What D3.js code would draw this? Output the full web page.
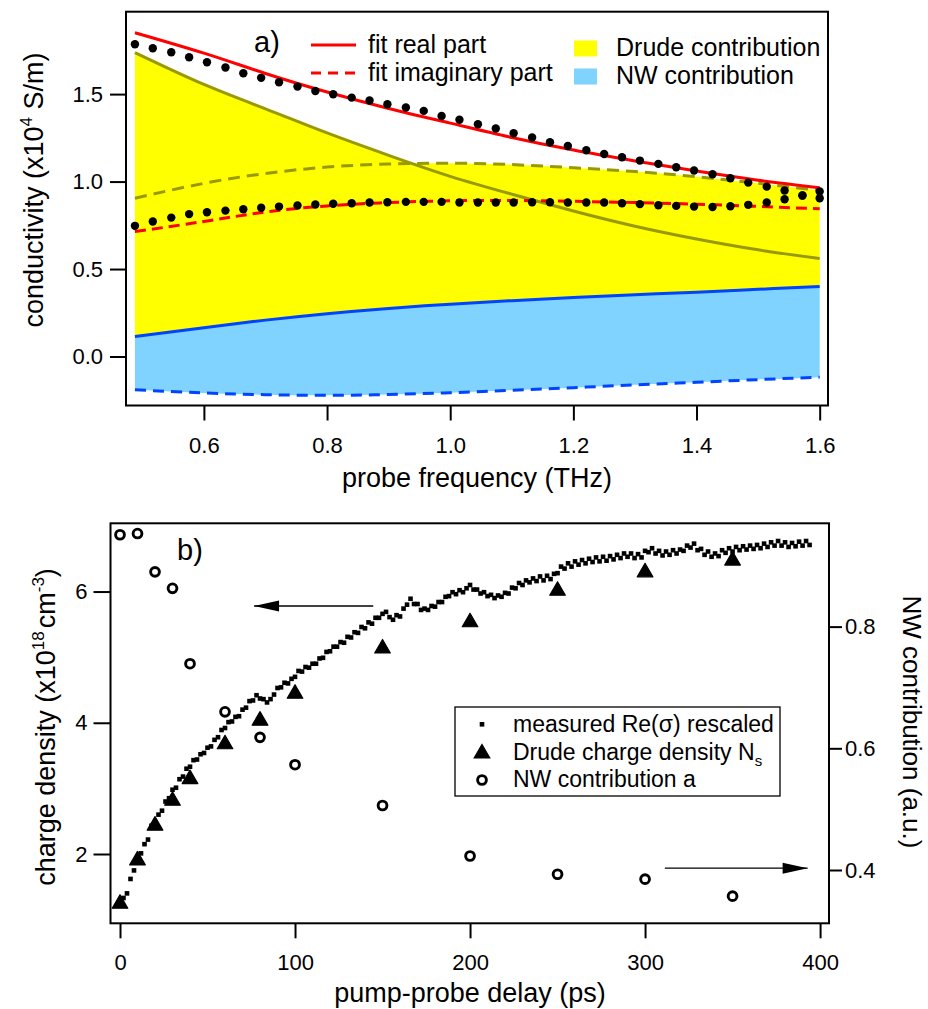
<!DOCTYPE html>
<html>
<head>
<meta charset="utf-8">
<script src="https://cdn.jsdelivr.net/npm/d3@7"></script>
<style>
  body { margin: 0; background: #fff; }
  svg { display: block; font-family: "Liberation Sans", Arial, sans-serif; }
  .axis line { stroke: #000; stroke-width: 2; }
  .axis text { font-size: 22px; fill: #000; font-family: "Liberation Sans", Arial, sans-serif; }
  .title { font-size: 27px; fill: #000; }
</style>
</head>
<body>
<svg width="928" height="1009"></svg>
<script>
// ---- panel a) : conductivity spectra ----
const freqs = [0.488, 0.517, 0.547, 0.576, 0.605, 0.635, 0.664, 0.693, 0.722, 0.752,
               0.781, 0.810, 0.840, 0.869, 0.898, 0.928, 0.957, 0.986, 1.015, 1.045,
               1.074, 1.103, 1.133, 1.162, 1.191, 1.221, 1.250, 1.279, 1.308, 1.338,
               1.367, 1.396, 1.426, 1.455, 1.484, 1.514, 1.543, 1.572, 1.600]
const sigmaReal = [1.785, 1.762, 1.739, 1.711, 1.682, 1.652, 1.619, 1.593, 1.568, 1.543,
                   1.518, 1.499, 1.480, 1.463, 1.442, 1.423, 1.404, 1.375, 1.353, 1.328,
                   1.303, 1.276, 1.252, 1.225, 1.203, 1.179, 1.158, 1.139, 1.120, 1.101,
                   1.082, 1.063, 1.042, 1.019, 0.994, 0.971, 0.949, 0.920, 0.943]
const sigmaImag = [0.747, 0.772, 0.794, 0.814, 0.825, 0.834, 0.842, 0.850, 0.857, 0.863,
                   0.869, 0.873, 0.876, 0.880, 0.882, 0.884, 0.884, 0.884, 0.880, 0.880,
                   0.880, 0.880, 0.882, 0.882, 0.880, 0.880, 0.880, 0.876, 0.871, 0.865,
                   0.861, 0.857, 0.855, 0.859, 0.867, 0.880, 0.899, 0.920, 0.905]

const fitFreqs   = [0.488, 0.6, 0.7, 0.8, 0.9, 1.0, 1.1, 1.2, 1.3, 1.4, 1.5, 1.6]
const fitReal    = [1.851, 1.734, 1.618, 1.512, 1.418, 1.334, 1.252, 1.180, 1.118, 1.060, 1.008, 0.965]
const fitImag    = [0.714, 0.772, 0.826, 0.861, 0.880, 0.890, 0.892, 0.887, 0.880, 0.871, 0.858, 0.844]
const drudeReal  = [1.737, 1.555, 1.416, 1.278, 1.150, 1.030, 0.928, 0.832, 0.745, 0.672, 0.610, 0.560]
const drudeImag  = [0.905, 0.990, 1.046, 1.083, 1.100, 1.105, 1.097, 1.079, 1.057, 1.028, 0.990, 0.950]
const nwReal     = [0.114, 0.165, 0.208, 0.245, 0.275, 0.299, 0.319, 0.337, 0.353, 0.368, 0.384, 0.400]
const nwImag     = [-0.190, -0.208, -0.218, -0.222, -0.217, -0.207, -0.193, -0.178, -0.162, -0.147, -0.132, -0.118]

const freqTicks = [0.6, 0.8, 1.0, 1.2, 1.4, 1.6]
const condTicks = [0.0, 0.5, 1.0, 1.5]

// ---- panel b) : dynamics ----
const delays = [0, 10, 20, 30, 40, 60, 80, 100, 150, 200, 250, 300, 350]
const drudeDensity = [1.25, 1.91, 2.44, 2.82, 3.15, 3.68, 4.04, 4.45, 5.14, 5.54, 6.02, 6.30, 6.48]
const nwContribution = [0.951, 0.953, 0.890, 0.863, 0.739, 0.660, 0.618, 0.573, 0.506, 0.423, 0.393, 0.385, 0.357]

const measuredDelay = [0, 2, 4, 6, 8, 10, 12, 14, 16, 18, 20, 22, 24, 26, 28, 30, 32, 34, 36, 38,
  40, 42, 44, 46, 48, 50, 52, 54, 56, 58, 60, 62, 64, 66, 68, 70, 72, 74, 76, 78,
  80, 82, 84, 86, 88, 90, 92, 94, 96, 98, 100, 102, 104, 106, 108, 110, 112, 114, 116, 118,
  120, 122, 124, 126, 128, 130, 132, 134, 136, 138, 140, 142, 144, 146, 148, 150, 152, 154, 156, 158,
  160, 162, 164, 166, 168, 170, 172, 174, 176, 178, 180, 182, 184, 186, 188, 190, 192, 194, 196, 198,
  200, 202, 204, 206, 208, 210, 212, 214, 216, 218, 220, 222, 224, 226, 228, 230, 232, 234, 236, 238,
  240, 242, 244, 246, 248, 250, 252, 254, 256, 258, 260, 262, 264, 266, 268, 270, 272, 274, 276, 278,
  280, 282, 284, 286, 288, 290, 292, 294, 296, 298, 300, 302, 304, 306, 308, 310, 312, 314, 316, 318,
  320, 322, 324, 326, 328, 330, 332, 334, 336, 338, 340, 342, 344, 346, 348, 350, 352, 354, 356, 358,
  360, 362, 364, 366, 368, 370, 372, 374, 376, 378, 380, 382, 384, 386, 388, 390, 392, 394]
const measuredRe = [1.22, 1.33, 1.40, 1.62, 1.75, 1.93, 2.01, 2.15, 2.22, 2.43,
  2.47, 2.60, 2.66, 2.80, 2.85, 2.98, 3.01, 3.14, 3.18, 3.30,
  3.33, 3.43, 3.44, 3.52, 3.54, 3.62, 3.64, 3.74, 3.78, 3.89,
  3.92, 4.01, 4.02, 4.09, 4.10, 4.20, 4.23, 4.33, 4.34, 4.42,
  4.37, 4.36, 4.31, 4.36, 4.43, 4.53, 4.54, 4.61, 4.60, 4.67,
  4.70, 4.79, 4.78, 4.85, 4.84, 4.90, 4.90, 4.98, 4.99, 5.08,
  5.09, 5.16, 5.16, 5.23, 5.22, 5.31, 5.30, 5.38, 5.37, 5.46,
  5.44, 5.53, 5.51, 5.60, 5.60, 5.66, 5.69, 5.61, 5.57, 5.64,
  5.62, 5.74, 5.80, 5.89, 5.81, 5.81, 5.72, 5.74, 5.72, 5.78,
  5.77, 5.84, 5.84, 5.92, 5.93, 5.99, 5.96, 6.02, 5.99, 6.05,
  6.10, 6.03, 6.03, 5.97, 5.99, 5.93, 5.95, 5.90, 5.94, 5.92,
  5.98, 5.97, 6.06, 6.05, 6.13, 6.10, 6.17, 6.14, 6.20, 6.16,
  6.23, 6.17, 6.24, 6.19, 6.27, 6.28, 6.38, 6.35, 6.43, 6.38,
  6.46, 6.41, 6.48, 6.43, 6.50, 6.45, 6.52, 6.46, 6.53, 6.47,
  6.54, 6.49, 6.56, 6.51, 6.58, 6.53, 6.58, 6.51, 6.57, 6.52,
  6.62, 6.60, 6.66, 6.58, 6.62, 6.55, 6.61, 6.56, 6.63, 6.58,
  6.64, 6.62, 6.70, 6.67, 6.73, 6.63, 6.65, 6.56, 6.61, 6.53,
  6.58, 6.54, 6.63, 6.59, 6.66, 6.61, 6.68, 6.63, 6.69, 6.64,
  6.70, 6.65, 6.71, 6.66, 6.73, 6.68, 6.75, 6.70, 6.77, 6.70,
  6.75, 6.68, 6.74, 6.69, 6.76, 6.70, 6.77, 6.71]

const delayTicks = [0, 100, 200, 300, 400]
const densityTicks = [2, 4, 6]
const nwTicks = [0.4, 0.6, 0.8]

const svg = d3.select('svg')

// ================= panel a =================
const xA = d3.scaleLinear().domain([0.4735, 1.6135]).range([126, 828])
const yA = d3.scaleLinear().domain([-0.28, 1.971]).range([405.5, 11.7])

const fits = fitFreqs.map((f, i) => ({f, re: fitReal[i], im: fitImag[i], dre: drudeReal[i],
                                      dim: drudeImag[i], nre: nwReal[i], nim: nwImag[i]}))

function band(lo, hi) {
  return d3.area()
    .x(d => xA(d.f))
    .y0(d => yA(d[lo]))
    .y1(d => yA(d[hi]))
    .curve(d3.curveNatural)
}
function curve(key) {
  return d3.line()
    .x(d => xA(d.f))
    .y(d => yA(d[key]))
    .curve(d3.curveNatural)
}

const gA = svg.append('g')

// yellow: Drude part on top of NW real part
gA.append('path').datum(fits).attr('d', band('nre', 'dre')).attr('fill', '#ffff00')
gA.append('path').datum(fits).attr('d', band('nre', 'dim')).attr('fill', '#ffff00')
// light blue: NW part
gA.append('path').datum(fits).attr('d', band('nim', 'nre')).attr('fill', '#80d2ff')

const lineStyles = [
  {key: 'dre', color: '#999900', dash: null},
  {key: 'dim', color: '#999900', dash: '12,7'},
  {key: 'nre', color: '#0044ff', dash: null},
  {key: 'nim', color: '#0044ff', dash: '11,7'},
  {key: 're', color: '#ff0000', dash: null},
  {key: 'im', color: '#ff0000', dash: '11,6'}
]
lineStyles.forEach(s => {
  gA.append('path')
    .datum(fits)
    .attr('d', curve(s.key))
    .attr('fill', 'none')
    .attr('stroke', s.color)
    .attr('stroke-width', 3)
    .attr('stroke-dasharray', s.dash)
})

const dots = freqs.map((f, i) => ({f, re: sigmaReal[i], im: sigmaImag[i]}))
gA.selectAll('.dotRe')
  .data(dots)
  .enter()
  .append('circle')
  .attr('cx', d => xA(d.f))
  .attr('cy', d => yA(d.re))
  .attr('r', 4.2)
  .attr('fill', '#000')
gA.selectAll('.dotIm')
  .data(dots)
  .enter()
  .append('circle')
  .attr('cx', d => xA(d.f))
  .attr('cy', d => yA(d.im))
  .attr('r', 4.2)
  .attr('fill', '#000')

// frame
gA.append('rect')
  .attr('x', 126).attr('y', 11.7)
  .attr('width', 828 - 126).attr('height', 405.5 - 11.7)
  .attr('fill', 'none').attr('stroke', '#000').attr('stroke-width', 2)

gA.append('g')
  .attr('class', 'axis')
  .attr('transform', 'translate(0,405.5)')
  .call(d3.axisBottom(xA).tickValues(freqTicks).tickFormat(d3.format('.1f'))
        .tickSize(15).tickPadding(17))
  .call(g => g.select('.domain').remove())

gA.append('g')
  .attr('class', 'axis')
  .attr('transform', 'translate(126,0)')
  .call(d3.axisLeft(yA).tickValues(condTicks).tickFormat(d3.format('.1f'))
        .tickSize(16).tickPadding(7))
  .call(g => g.select('.domain').remove())

svg.append('text')
  .attr('class', 'title')
  .attr('x', 477).attr('y', 487)
  .attr('text-anchor', 'middle')
  .text('probe frequency (THz)')

const yTitleA = svg.append('text')
  .attr('class', 'title')
  .attr('text-anchor', 'middle')
  .attr('transform', 'translate(43,190) rotate(-90)')
yTitleA.append('tspan').text('conductivity (x10')
yTitleA.append('tspan').attr('dy', -11).style('font-size', '17px').text('4')
yTitleA.append('tspan').attr('dy', 11).text(' S/m)')

svg.append('text')
  .attr('x', 254).attr('y', 52)
  .style('font-size', '29px')
  .text('a)')

// legend a
const legA = svg.append('g').style('font-size', '25px')
legA.append('line').attr('x1', 311).attr('x2', 356).attr('y1', 45).attr('y2', 45)
  .attr('stroke', '#ff0000').attr('stroke-width', 3)
legA.append('line').attr('x1', 311).attr('x2', 356).attr('y1', 73).attr('y2', 73)
  .attr('stroke', '#ff0000').attr('stroke-width', 3).attr('stroke-dasharray', '10,7')
legA.append('text').attr('x', 368).attr('y', 53).text('fit real part')
legA.append('text').attr('x', 368).attr('y', 81).text('fit imaginary part')
legA.append('rect').attr('x', 574).attr('y', 40.5).attr('width', 23).attr('height', 16)
  .attr('fill', '#ffff00')
legA.append('rect').attr('x', 574).attr('y', 68.5).attr('width', 23).attr('height', 16)
  .attr('fill', '#80d2ff')
legA.append('text').attr('x', 616).attr('y', 56).text('Drude contribution')
legA.append('text').attr('x', 616).attr('y', 84).text('NW contribution')

// ================= panel b =================
const xB = d3.scaleLinear().domain([-5.43, 405.1]).range([110.5, 829])
const yB = d3.scaleLinear().domain([0.944, 7.04]).range([923.3, 523.3])
const yR = d3.scaleLinear().domain([0.3124, 0.9698]).range([923.3, 523.3])

const gB = svg.append('g')

gB.selectAll('.measured')
  .data(measuredDelay.map((t, i) => ({t, v: measuredRe[i]})))
  .enter()
  .append('rect')
  .attr('x', d => xB(d.t) - 2.3)
  .attr('y', d => yB(d.v) - 2.3)
  .attr('width', 4.6)
  .attr('height', 4.6)
  .attr('fill', '#000')

const triangle = 'M0,-8.5 L7.8,5 L-7.8,5 Z'
gB.selectAll('.drude')
  .data(delays.map((t, i) => ({t, v: drudeDensity[i]})))
  .enter()
  .append('path')
  .attr('d', triangle)
  .attr('transform', d => `translate(${xB(d.t)},${yB(d.v)})`)
  .attr('fill', '#000')
  .attr('stroke', '#000')
  .attr('stroke-width', 1.2)
  .attr('stroke-linejoin', 'round')

gB.selectAll('.nw')
  .data(delays.map((t, i) => ({t, v: nwContribution[i]})))
  .enter()
  .append('circle')
  .attr('cx', d => xB(d.t))
  .attr('cy', d => yR(d.v))
  .attr('r', 4.4)
  .attr('fill', 'none')
  .attr('stroke', '#000')
  .attr('stroke-width', 2.9)

// arrows pointing to the matching axis
function arrow(x1, x2, y, pointLeft) {
  gB.append('line')
    .attr('x1', x1).attr('x2', x2).attr('y1', y).attr('y2', y)
    .attr('stroke', '#000').attr('stroke-width', 1.4)
  const tip = pointLeft ? x1 : x2
  const back = pointLeft ? tip + 25 : tip - 25
  gB.append('path')
    .attr('d', `M${tip},${y} L${back},${y - 5.5} L${back},${y + 5.5} Z`)
    .attr('fill', '#000')
}
arrow(xB(76.6), xB(144.7), yB(5.78), true)
arrow(xB(311.3), xB(392.9), yR(0.403), false)

gB.append('rect')
  .attr('x', 110.5).attr('y', 523.3)
  .attr('width', 829 - 110.5).attr('height', 923.3 - 523.3)
  .attr('fill', 'none').attr('stroke', '#000').attr('stroke-width', 2)

gB.append('g')
  .attr('class', 'axis')
  .attr('transform', 'translate(0,923.3)')
  .call(d3.axisBottom(xB).tickValues(delayTicks).tickFormat(d3.format('d'))
        .tickSize(15).tickPadding(16))
  .call(g => g.select('.domain').remove())

gB.append('g')
  .attr('class', 'axis')
  .attr('transform', 'translate(110.5,0)')
  .call(d3.axisLeft(yB).tickValues(densityTicks).tickFormat(d3.format('d'))
        .tickSize(17).tickPadding(6))
  .call(g => g.select('.domain').remove())

gB.append('g')
  .attr('class', 'axis')
  .attr('transform', 'translate(829,0)')
  .call(d3.axisRight(yR).tickValues(nwTicks).tickFormat(d3.format('.1f'))
        .tickSize(13).tickPadding(3))
  .call(g => g.select('.domain').remove())

svg.append('text')
  .attr('class', 'title')
  .attr('x', 470).attr('y', 1002)
  .attr('text-anchor', 'middle')
  .text('pump-probe delay (ps)')

const yTitleB = svg.append('text')
  .attr('class', 'title')
  .attr('text-anchor', 'middle')
  .attr('transform', 'translate(55,727) rotate(-90)')
yTitleB.append('tspan').text('charge density (x10')
yTitleB.append('tspan').attr('dy', -11).style('font-size', '17px').text('18')
yTitleB.append('tspan').attr('dy', 11).attr('dx', 3).text('cm')
yTitleB.append('tspan').attr('dy', -11).style('font-size', '17px').text('-3')
yTitleB.append('tspan').attr('dy', 11).text(')')

svg.append('text')
  .attr('class', 'title')
  .style('font-size', '26px')
  .attr('text-anchor', 'middle')
  .attr('transform', 'translate(903,722) rotate(90)')
  .text('NW contribution (a.u.)')

svg.append('text')
  .attr('x', 177).attr('y', 560)
  .style('font-size', '29px')
  .text('b)')

// legend b
const legB = svg.append('g').style('font-size', '23px')
legB.append('rect').attr('x', 455).attr('y', 707).attr('width', 325).attr('height', 89)
  .attr('fill', '#fff').attr('stroke', '#000').attr('stroke-width', 1.3)
legB.append('rect').attr('x', 479.7).attr('y', 722).attr('width', 4.6).attr('height', 4.6)
  .attr('fill', '#000')
legB.append('path').attr('d', triangle).attr('transform', 'translate(482,753)')
  .attr('fill', '#000').attr('stroke', '#000').attr('stroke-width', 1.2)
legB.append('circle').attr('cx', 482).attr('cy', 780).attr('r', 4.4)
  .attr('fill', 'none').attr('stroke', '#000').attr('stroke-width', 2.9)
legB.append('text').attr('x', 513).attr('y', 732).text('measured Re(σ) rescaled')
const legDrude = legB.append('text').attr('x', 513).attr('y', 760)
legDrude.append('tspan').text('Drude charge density N')
legDrude.append('tspan').attr('dy', 6).style('font-size', '15px').text('s')
legB.append('text').attr('x', 513).attr('y', 787).text('NW contribution a')
</script>
</body>
</html>
